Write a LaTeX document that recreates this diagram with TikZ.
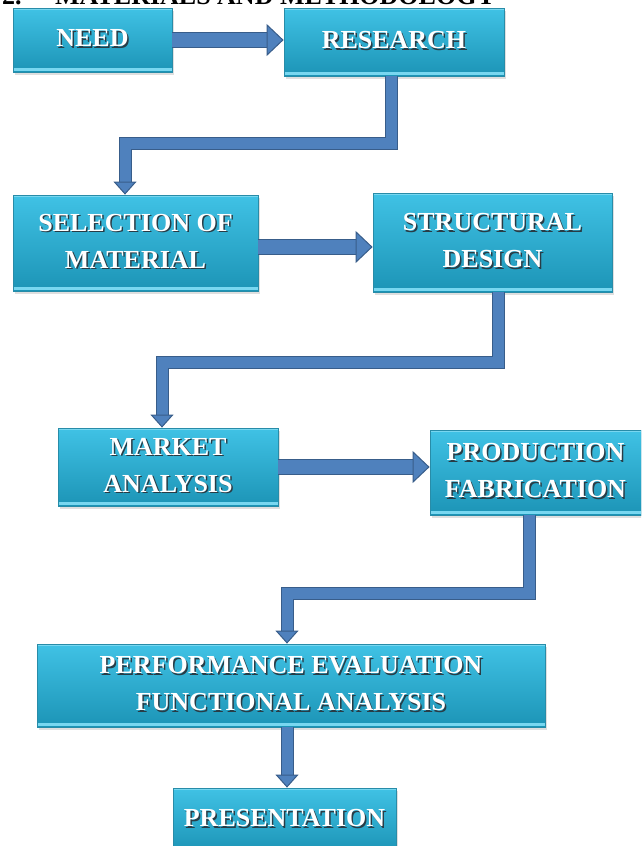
\documentclass[tikz,border=0pt]{standalone}
\usepackage{fontspec}
\setmainfont{Liberation Serif}
\usetikzlibrary{arrows.meta,shadows}
\definecolor{boxtop}{RGB}{64,194,229}
\definecolor{boxbot}{RGB}{28,148,182}
\definecolor{boxborder}{RGB}{40,140,168}
\definecolor{boxlight}{RGB}{120,215,240}
\definecolor{arrowblue}{RGB}{79,129,189}
\definecolor{arrowborder}{RGB}{56,93,138}
\definecolor{txtshadow}{RGB}{40,60,70}
\newcommand\flowfont{\fontsize{26}{37}\selectfont\bfseries}
\newcommand\lbl[1]{\def\lbltmp{\begin{tabular}{@{}c@{}}#1\end{tabular}}%
  \rlap{\hspace{1.5pt}\raisebox{-1.5pt}{\color{txtshadow}\lbltmp}}\lbltmp}
\tikzset{
  flow/.style={rectangle, draw=boxborder, line width=0.8pt,
    top color=boxtop, bottom color=boxbot, text=white, font=\flowfont,
    align=center, inner sep=0pt,
    drop shadow={shadow xshift=2pt, shadow yshift=-3pt, opacity=0.25},
    path picture={
      \draw[boxlight, line width=2.5pt]
        ([yshift=2.5pt]path picture bounding box.south west) --
        ([yshift=2.5pt]path picture bounding box.south east);
      \draw[boxlight, line width=1.5pt]
        ([yshift=-1pt]path picture bounding box.north west) --
        ([yshift=-1pt]path picture bounding box.north east);}},
  harrow/.style={draw=arrowborder, line width=1pt, double=arrowblue,
    double distance=14pt,
    -{Triangle[width=32pt,length=17pt,fill=arrowblue,line width=1pt]}},
  elbow/.style={draw=arrowborder, line width=1pt, double=arrowblue,
    double distance=11pt,
    -{Triangle[width=23pt,length=13pt,fill=arrowblue,line width=1pt]}},
  heading/.style={font=\fontsize{26}{30}\selectfont\bfseries, text=black,
    inner sep=0pt, anchor=base west}
}
\begin{document}
\begin{tikzpicture}[x=1pt,y=-1pt]
\useasboundingbox (0,0) rectangle (641,846);
\clip (0,0) rectangle (641,846);
\fill[white] (0,0) rectangle (641,846);

\node[heading] (headnum) at (2,4) {2.};
\node[heading] (headtitle) at (55,4) {MATERIALS AND METHODOLOGY};

\node[flow, minimum width=159pt, minimum height=64pt] (need) at (92.5,40) {\lbl{NEED}};
\node[flow, minimum width=220pt, minimum height=68pt] (research) at (394,42) {\lbl{RESEARCH}};
\node[flow, minimum width=245pt, minimum height=96pt] (selection) at (135.5,243) {\lbl{SELECTION OF\\MATERIAL}};
\node[flow, minimum width=239pt, minimum height=99pt] (structural) at (492.5,242.5) {\lbl{STRUCTURAL\\DESIGN}};
\node[flow, minimum width=220pt, minimum height=78pt] (market) at (168,467) {\lbl{MARKET\\ANALYSIS}};
\node[flow, minimum width=211pt, minimum height=85pt] (production) at (535.5,472.5) {\lbl{PRODUCTION\\FABRICATION}};
\node[flow, minimum width=508pt, minimum height=83pt] (performance) at (291,685.5) {\lbl{PERFORMANCE EVALUATION\\FUNCTIONAL ANALYSIS}};
\node[flow, minimum width=223pt, minimum height=64pt] (presentation) at (284.5,820) {\lbl{PRESENTATION}};

\draw[harrow] (need.east) -- (need.east -| research.west);
\draw[elbow] ([xshift=-3pt]research.south) -- ++(0,67) -| ([xshift=-10.5pt]selection.north);
\draw[harrow] ([yshift=-4pt]selection.east) -- ([yshift=-4pt]selection.east -| structural.west);
\draw[elbow] ([xshift=5.5pt]structural.south) -- ++(0,70) -| ([xshift=-6pt]market.north);
\draw[harrow] (market.east) -- (market.east -| production.west);
\draw[elbow] ([xshift=-6.5pt]production.south) -- ++(0,78) -| ([xshift=-4pt]performance.north);
\draw[elbow] ([xshift=-4pt]performance.south) -- ([xshift=-4pt]performance.south |- presentation.north);
\end{tikzpicture}
\end{document}
